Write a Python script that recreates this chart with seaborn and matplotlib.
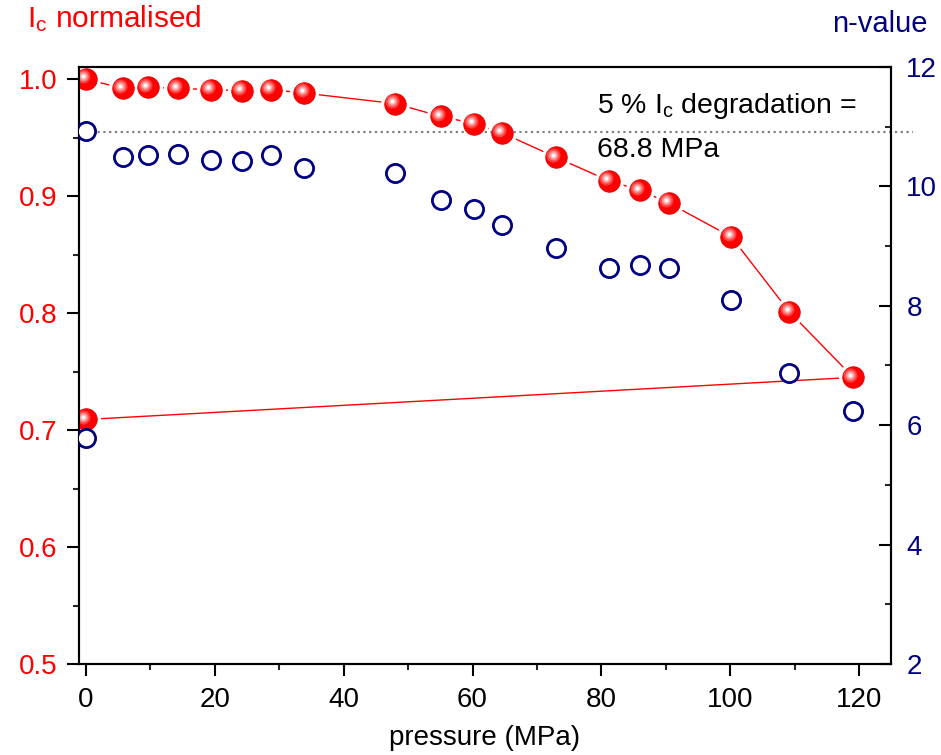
import numpy as np
import pandas as pd
import matplotlib
matplotlib.use("Agg")
import matplotlib.pyplot as plt
import matplotlib.transforms as mtransforms
from matplotlib.ticker import MultipleLocator
import seaborn as sns

# ---- data ----
pressure = [0, 5.7, 9.6, 14.3, 19.4, 24.2, 28.7, 33.9, 48.0, 55.1, 60.2, 64.6,
            73.0, 81.2, 86.0, 90.5, 100.2, 109.2, 119.1, 0]
ic_norm = [1.000, 0.992, 0.993, 0.992, 0.991, 0.990, 0.991, 0.988, 0.979, 0.968,
           0.962, 0.954, 0.933, 0.913, 0.905, 0.894, 0.865, 0.801, 0.745, 0.709]
n_value = [10.92, 10.50, 10.52, 10.54, 10.44, 10.42, 10.52, 10.30, 10.22, 9.78,
           9.62, 9.36, 8.96, 8.63, 8.68, 8.63, 8.09, 6.87, 6.23, 5.78]
degradation_level = 0.955
annotation_lines = ["5 % I$_{\\mathrm{c}}$ degradation =", "68.8 MPa"]
x_ticks = [0, 20, 40, 60, 80, 100, 120]
left_ticks = [0.5, 0.6, 0.7, 0.8, 0.9, 1.0]
right_ticks = [2, 4, 6, 8, 10, 12]

df = pd.DataFrame({"pressure": pressure, "ic": ic_norm, "n": n_value})

sns.set_style("ticks")
plt.rcParams["font.family"] = ["Liberation Sans", "DejaVu Sans"]
plt.rcParams["mathtext.fontset"] = "custom"
plt.rcParams["mathtext.rm"] = "Liberation Sans"
plt.rcParams["mathtext.it"] = "Liberation Sans:italic"
plt.rcParams["mathtext.default"] = "rm"
plt.rcParams["text.color"] = "black"
plt.rcParams["axes.labelcolor"] = "black"

RED = "#ff0000"
NAVY = "#000080"
W, H = 941, 755

fig = plt.figure(figsize=(W / 100, H / 100), dpi=100)
ax = fig.add_axes([79 / W, 1 - 664 / H, (891 - 79) / W, (664 - 67) / H])
ax2 = ax.twinx()

# red connecting line
sns.lineplot(data=df, x="pressure", y="ic", sort=False, estimator=None,
             color=RED, lw=1.0, ax=ax, zorder=1)
# white halo so the line stops short of the balls
ax.scatter(df["pressure"], df["ic"], s=(29 * 0.72) ** 2, color="white",
           linewidths=0, zorder=2)
# dotted degradation line
ax.plot([0, 128.4], [degradation_level, degradation_level], ls=(0, (1, 1.6)),
        color="#808080", lw=1.6, zorder=3, clip_on=False)
# red balls
sns.scatterplot(data=df, x="pressure", y="ic", s=(21.5 * 0.72) ** 2, color=RED,
                edgecolor="#e00000", linewidth=0.6, ax=ax, zorder=4, legend=False)
# highlights
off = mtransforms.ScaledTranslation(-2.8 / 100, 2.6 / 100, fig.dpi_scale_trans)
for d, c, z in [(14, "#ff4040", 5), (10, "#ff8080", 6), (6.5, "#ffbcbc", 7), (3.5, "#ffffff", 8)]:
    ax.scatter(df["pressure"], df["ic"], s=(d * 0.72) ** 2, color=c,
               linewidths=0, zorder=z, transform=ax.transData + off)

# n-value open circles on right axis
sns.scatterplot(data=df, x="pressure", y="n", s=(18.2 * 0.72) ** 2,
                facecolor="white", edgecolor=NAVY, linewidth=2.0, ax=ax2,
                zorder=5, legend=False)
ax.set_zorder(2)
ax.patch.set_visible(False)
ax2.set_zorder(3)

ax.set_xlim(-1.09, 124.97)
ax.set_ylim(0.5, 1.0103)
ax2.set_ylim(2, 12)

ax.set_xticks(x_ticks)
ax.xaxis.set_minor_locator(MultipleLocator(10))
ax.set_yticks(left_ticks)
ax.set_yticklabels([f"{v:.1f}" for v in left_ticks])
ax.yaxis.set_minor_locator(MultipleLocator(0.05))
ax2.set_yticks(right_ticks)
ax2.yaxis.set_minor_locator(MultipleLocator(1))

for a in (ax, ax2):
    for sp in a.spines.values():
        sp.set_linewidth(1.5)
        sp.set_color("black")

ax.tick_params(axis="x", which="major", direction="out", length=8.5, width=1.5,
               labelsize=20, pad=8, top=False, colors="black")
ax.tick_params(axis="x", which="minor", direction="out", length=4.5, width=1.5, top=False)
ax.tick_params(axis="y", which="major", direction="out", length=8.5, width=1.5,
               labelsize=20, pad=7, labelcolor=RED, color="black", right=False)
ax.tick_params(axis="y", which="minor", direction="out", length=4.5, width=1.5, right=False)
ax2.tick_params(axis="y", which="major", direction="in", length=8.5, width=1.5,
                labelsize=20, pad=11, labelcolor=NAVY, color="black", left=False)
ax2.tick_params(axis="y", which="minor", direction="in", length=4.5, width=1.5, left=False)

ax.set_xlabel("pressure (MPa)", fontsize=20, labelpad=9, color="black")
ax.set_ylabel("")
ax2.set_ylabel("")

fig.text(27 / W, 1 - 27 / H, "I$_{\\mathrm{c}}$ normalised", color=RED,
         fontsize=21.5, ha="left", va="baseline")
fig.text(928 / W, 1 - 32 / H, "n-value", color=NAVY, fontsize=21,
         ha="right", va="baseline")

ax.text(79.3, 0.9707, annotation_lines[0], fontsize=20.5, color="black",
        ha="left", va="baseline", zorder=10)
ax.text(79.3, 0.9331, annotation_lines[1], fontsize=20.5, color="black",
        ha="left", va="baseline", zorder=10)

fig.savefig("out.png", dpi=100)
